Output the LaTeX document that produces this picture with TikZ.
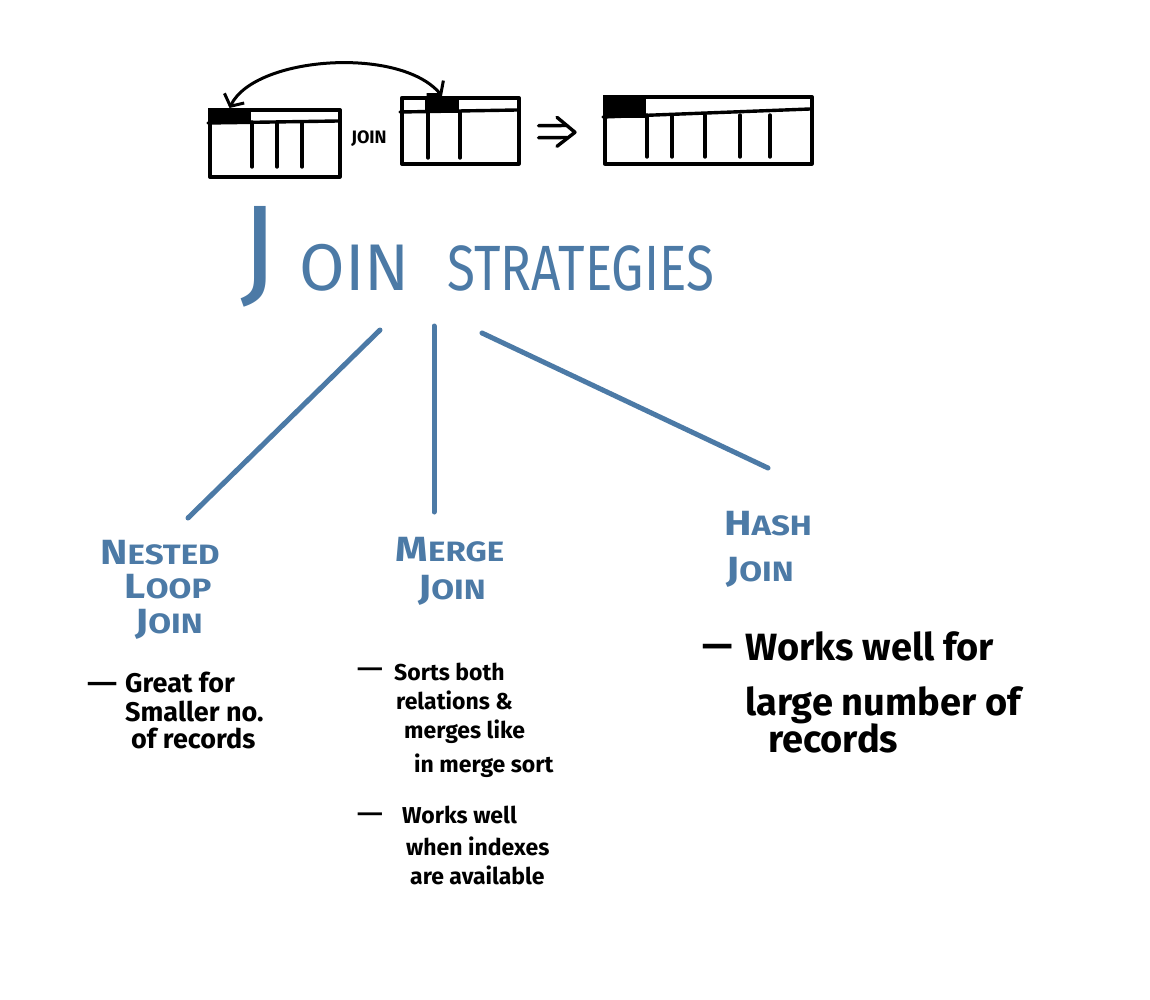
\documentclass[tikz,border=0pt]{standalone}
\usepackage{fontspec}
\setmainfont{Fira Sans}
\usetikzlibrary{arrows.meta,calc}
\definecolor{inkblue}{RGB}{76,122,166}
\newcommand\hcap[2]{\scalebox{1.18}[1]{{\fontsize{35}{35}\selectfont #1}{\fontsize{28}{28}\selectfont #2}}}
\newcommand\wdash[1]{\scalebox{#1}[1]{—}}
\tikzset{
  tbl/.style={draw, line width=3.6pt, inner sep=0pt, anchor=north west},
  cellbox/.style={fill=black, draw=black, line width=1pt, inner sep=0pt, anchor=north west},
  grid/.style={line width=3.4pt},
  blueline/.style={draw=inkblue, line width=5pt},
  head/.style={text=inkblue, anchor=base, inner sep=0pt, font=\bfseries},
  note/.style={text=black, anchor=base west, inner sep=0pt},
  dashmark/.style={text=black, anchor=base west, inner sep=0pt}
}
\begin{document}
\begin{tikzpicture}[x=1pt,y=-1pt,line cap=round,line join=round]
\useasboundingbox (0,0) rectangle (1150,1000);
\fill[white] (0,0) rectangle (1150,1000);

% table 1
\node[tbl, minimum width=130pt, minimum height=67pt] (t1) at (208,108) {};
\node[cellbox, minimum width=42pt, minimum height=15pt] (c1) at (208,108) {};
\draw[grid] (208,123) -- (338,121);
\foreach \x in {252,277,302} \draw[grid] (\x,122) -- (\x,167);

% table 2
\node[tbl, minimum width=117pt, minimum height=66pt] (t2) at (400,96) {};
\node[cellbox, minimum width=33pt, minimum height=16pt] (c2) at (425,96) {};
\draw[grid] (400,112) -- (517,110);
\foreach \x in {428,460} \draw[grid] (\x,112) -- (\x,158);

% table 3
\node[tbl, minimum width=207pt, minimum height=67pt] (t3) at (603,95) {};
\node[cellbox, minimum width=42pt, minimum height=22pt] (c3) at (603,95) {};
\draw[grid] (603,117) -- (810,109);
\foreach \x in {647,672,705,740,770} \draw[grid] (\x,115) -- (\x,157);

% join label
\node[inner sep=0pt, font=\fontsize{18}{18}\selectfont\bfseries] (jl) at (369,139) {JOIN};

% arc arrow
\draw[line width=3pt, {Straight Barb[length=9pt,width=22pt]}-{Straight Barb[length=9pt,width=22pt]}]
  (c1.north) .. controls (255,56) and (400,46) .. (c2.north);

% implies
\draw[line width=3.4pt, shorten <=18pt, shorten >=36pt] ($(t2.east)+(0,-5)$) -- ($(t3.west)+(0,-5)$);
\draw[line width=3.4pt, shorten <=18pt, shorten >=36pt] ($(t2.east)+(0,7)$) -- ($(t3.west)+(0,7)$);
\draw[line width=3.4pt] ($(t3.west)+(-46,-13)$) -- ($(t3.west)+(-28,2)$) -- ($(t3.west)+(-46,16)$);

% title
\node[text=inkblue, anchor=base west, inner sep=0pt] (title) at (240,290)
  {{\fontsize{122}{122}\selectfont J}\hspace{22pt}\scalebox{1.0}[1]{\fontsize{66}{66}\selectfont OIN}\hspace{38pt}\scalebox{0.8}[1]{\fontsize{64}{64}\selectfont STRATEGIES}};

% blue connectors
\coordinate (s1) at (380,330);
\coordinate (s2) at (434,326);
\coordinate (s3) at (482,333);
\coordinate (e1) at (188,518);
\coordinate (e2) at (434,512);
\coordinate (e3) at (768,468);
\draw[blueline] (s1) -- (e1);
\draw[blueline] (s2) -- (e2);
\draw[blueline] (s3) -- (e3);

% headings
\node[head] (nl1) at (160,564) {\hcap{N}{ESTED}};
\node[head] (nl2) at (168,598) {\hcap{L}{OOP}};
\node[head] (nl3) at (169,633) {\hcap{J}{OIN}};
\node[head] (mj1) at (450,561) {\hcap{M}{ERGE}};
\node[head] (mj2) at (452,599) {\hcap{J}{OIN}};
\node[head] (hj1) at (768,535) {\hcap{H}{ASH}};
\node[head] (hj2) at (760,581) {\hcap{J}{OIN}};

% nested loop notes
\begin{scope}[font=\fontsize{27}{27}\selectfont\bfseries]
\node[dashmark] (nd) at (87,692) {\wdash{1.4}};
\node[note] (n1) at (125,692) {Great for};
\node[note] (n2) at (125,721) {Smaller no.};
\node[note] (n3) at (131,748) {of records};
\end{scope}

% merge join notes
\begin{scope}[font=\fontsize{23}{23}\selectfont\bfseries]
\node[dashmark] (md1) at (357,676) {\wdash{1.4}};
\node[note] (m1) at (394,680) {Sorts both};
\node[note] (m2) at (396,709) {relations \&};
\node[note] (m3) at (404,738) {merges like};
\node[note] (m4) at (414,772) {in merge sort};
\node[dashmark] (md2) at (357,821) {\wdash{1.4}};
\node[note] (m5) at (402,823) {Works well};
\node[note] (m6) at (406,855) {when indexes};
\node[note] (m7) at (410,884) {are available};
\end{scope}

% hash join notes
\begin{scope}[font=\fontsize{38}{38}\selectfont\bfseries]
\node[dashmark] (hd) at (702,658) {\wdash{1.0}};
\node[note] (h1) at (745,660) {Works well for};
\node[note] (h2) at (745,715) {large number of};
\node[note] (h3) at (768,752) {records};
\end{scope}
\end{tikzpicture}
\end{document}
